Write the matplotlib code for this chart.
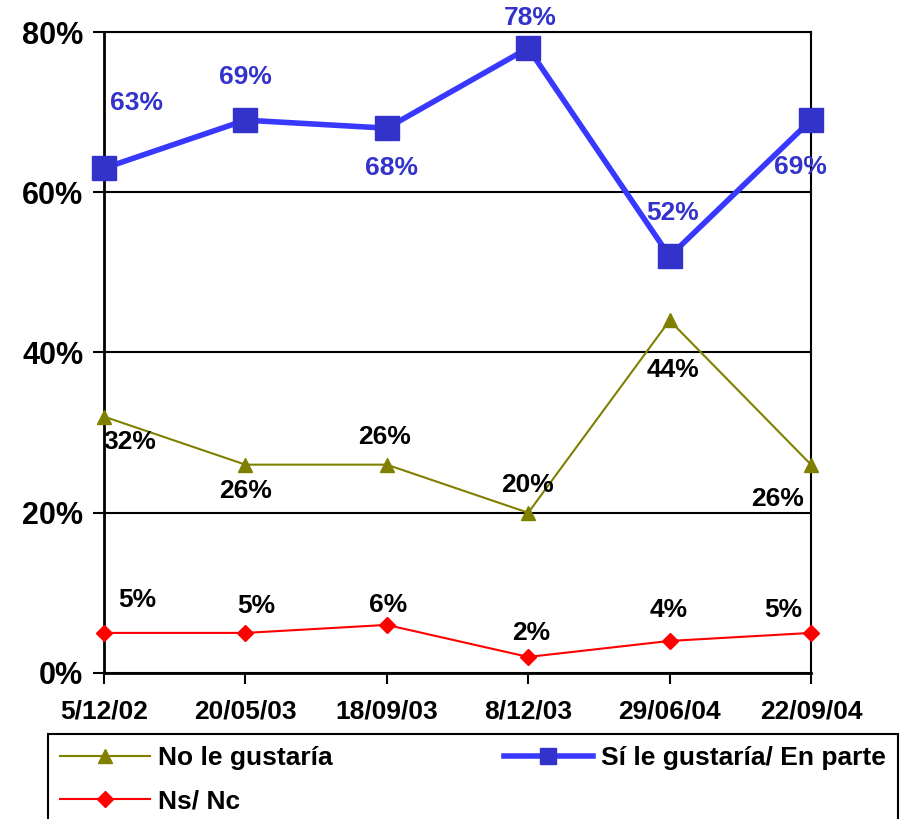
import matplotlib.pyplot as plt
from matplotlib.ticker import FuncFormatter

plt.rcParams['font.family'] = ['Liberation Sans', 'DejaVu Sans']
plt.rcParams['font.weight'] = 'bold'

fechas = ['5/12/02', '20/05/03', '18/09/03', '8/12/03', '29/06/04', '22/09/04']
si_gustaria = [0.63, 0.69, 0.68, 0.78, 0.52, 0.69]
no_gustaria = [0.32, 0.26, 0.26, 0.20, 0.44, 0.26]
ns_nc = [0.05, 0.05, 0.06, 0.02, 0.04, 0.05]

# label offsets in pixels (dx, dy) relative to each point
off_si = [(33, 65), (0, 43), (5, -40), (2, 30), (3, 43), (-11, -47)]
off_no = [(26, -25), (0, -26), (-2, 28), (-1, 28), (3, -50), (-33, -34)]
off_ns = [(33, 33), (11, 27), (1, 20), (3, 24), (-1, 31), (-28, 23)]

fig = plt.figure(figsize=(9.13, 8.19), dpi=100)
ax = fig.add_axes([0.1139, 0.1783, 0.7744, 0.7826])

x = list(range(len(fechas)))

l_no, = ax.plot(x, no_gustaria, color='#808000', lw=1.5, marker='^',
                markersize=10, markerfacecolor='#808000', markeredgecolor='#808000',
                clip_on=False, zorder=3)
l_ns, = ax.plot(x, ns_nc, color='#FF0000', lw=1.5, marker='D',
                markersize=8, markerfacecolor='#FF0000', markeredgecolor='#FF0000',
                clip_on=False, zorder=3)
l_si, = ax.plot(x, si_gustaria, color='#3838FF', lw=4, marker='s',
                markersize=17, markerfacecolor='#3333CC', markeredgecolor='#3333CC',
                clip_on=False, zorder=4)

for xs, vals, offs, col in [(x, si_gustaria, off_si, '#3333CC'),
                            (x, no_gustaria, off_no, 'black'),
                            (x, ns_nc, off_ns, 'black')]:
    for xi, v, (dx, dy) in zip(xs, vals, offs):
        ax.annotate('%d%%' % round(v * 100), (xi, v), xytext=(dx, dy),
                    textcoords='offset pixels', ha='center', va='center',
                    fontsize=19, fontweight='bold', color=col, zorder=5,
                    annotation_clip=False)

ax.set_xlim(0, 5)
ax.set_ylim(0, 0.8)
ax.set_yticks([0, 0.2, 0.4, 0.6, 0.8])
ax.yaxis.set_major_formatter(FuncFormatter(lambda v, p: '%d%%' % round(v * 100)))
ax.set_xticks(x)
ax.set_xticklabels(fechas)
ax.tick_params(axis='y', labelsize=22, length=8, width=1.5, pad=7)
ax.tick_params(axis='x', labelsize=19, length=8, width=1.5, pad=11)
for lab in ax.get_xticklabels() + ax.get_yticklabels():
    lab.set_fontweight('bold')

ax.yaxis.grid(True, color='black', lw=1.5)
ax.set_axisbelow(True)
for s in ax.spines.values():
    s.set_color('black')
    s.set_linewidth(1.5)
ax.spines['left'].set_linewidth(2)
ax.spines['bottom'].set_linewidth(2)

leg = fig.legend([l_no, l_ns, l_si], ['No le gustaría', 'Ns/ Nc', 'Sí le gustaría/ En parte'],
                 ncol=2, loc='upper left', bbox_to_anchor=(0.0526, 0.0, 0.931, 0.1038),
                 mode='expand', fancybox=False, framealpha=1, edgecolor='black',
                 prop={'size': 19, 'weight': 'bold'}, handlelength=3.4,
                 handletextpad=0.3, labelspacing=0.75, borderaxespad=0,
                 borderpad=0.45)
leg.get_frame().set_linewidth(1.5)
for h, ms in zip(leg.legend_handles, [10, 8, 12]):
    h.set_markersize(ms)

fig.savefig('out.png', dpi=100)
